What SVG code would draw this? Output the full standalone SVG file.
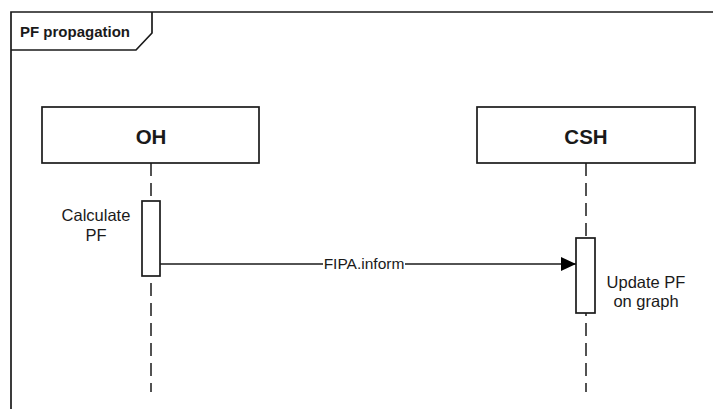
<svg xmlns="http://www.w3.org/2000/svg" width="713" height="409" viewBox="0 0 713 409">
<defs>
<style>
.ln{fill:none;stroke:#1a1a1a;stroke-width:1.7}
.box{fill:#fff;stroke:#1a1a1a;stroke-width:1.7}
.life{fill:none;stroke:#1a1a1a;stroke-width:1.5;stroke-dasharray:13 7}
.t{font-family:"Liberation Sans",Arial,sans-serif;fill:#1a1a1a}
.title{font-weight:bold;font-size:20.5px}
.note{font-size:16.5px}
</style>
<marker id="arr" markerWidth="16" markerHeight="14" refX="15" refY="7" orient="auto" markerUnits="userSpaceOnUse">
<path d="M0,0 L15,7 L0,14 Z" fill="#000"/>
</marker>
</defs>
<rect width="713" height="409" fill="#fff"/>
<g id="frame">
<path class="ln" d="M11,409 L11,12 L713,12"/>
<path class="ln" d="M11,50 L136,50 L152,33 L152,12"/>
<text class="t" x="20" y="37" font-size="15" font-weight="bold">PF propagation</text>
</g>
<g id="lifelines">
<line class="life" x1="151" y1="163" x2="151" y2="392"/>
<line class="life" x1="586" y1="163" x2="586" y2="392"/>
</g>
<g id="OH">
<rect class="box" x="42" y="107" width="217" height="56"/>
<text class="t title" x="151" y="144" text-anchor="middle">OH</text>
</g>
<g id="CSH">
<rect class="box" x="477" y="107" width="218" height="56"/>
<text class="t title" x="586" y="144" text-anchor="middle">CSH</text>
</g>
<g id="OH-activation">
<rect class="box" x="142" y="201" width="18" height="75"/>
<text class="t note" x="96" y="221" text-anchor="middle">Calculate</text>
<text class="t note" x="96" y="241" text-anchor="middle">PF</text>
</g>
<g id="CSH-activation">
<rect class="box" x="576" y="238" width="19" height="75"/>
<text class="t note" x="646" y="288" text-anchor="middle">Update PF</text>
<text class="t note" x="646" y="307" text-anchor="middle">on graph</text>
</g>
<g id="connectors">
<line class="ln" x1="160" y1="264" x2="576" y2="264" marker-end="url(#arr)"/>
<rect x="323" y="255" width="82" height="17" fill="#fff"/>
<text class="t" x="364" y="269" font-size="15.5" text-anchor="middle">FIPA.inform</text>
</g>
</svg>
